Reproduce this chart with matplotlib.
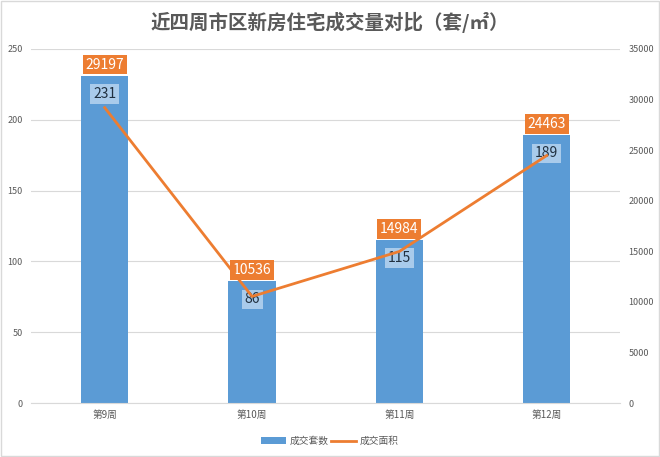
import numpy as np
import matplotlib
matplotlib.use('Agg')
import matplotlib.pyplot as plt
from matplotlib.patches import Rectangle

plt.rcParams['font.family'] = ['Noto Sans CJK SC', 'DejaVu Sans']

weeks = ['第9周', '第10周', '第11周', '第12周']
units = [231, 86, 115, 189]          # 成交套数
area = [29197, 10536, 14984, 24463]  # 成交面积

bar_color = '#5B9BD5'
line_color = '#ED7D31'
text_gray = '#595959'

fig = plt.figure(figsize=(6.6, 4.57), dpi=100)
fig.patches.append(Rectangle((0.001, 0.002), 0.997, 0.996, transform=fig.transFigure,
                             fill=False, ec='#D9D9D9', lw=1))
ax = fig.add_axes([0.047, 0.118, 0.893, 0.775])
ax2 = ax.twinx()

x = np.arange(len(weeks))
ax.bar(x, units, width=0.32, color=bar_color, zorder=2, label='成交套数')
ax2.plot(x, area, color=line_color, lw=2, zorder=3, label='成交面积')

ax.set_ylim(0, 250)
ax.set_yticks(range(0, 251, 50))
ax2.set_ylim(0, 35000)
ax2.set_yticks(range(0, 35001, 5000))
ax.set_xlim(-0.5, len(weeks) - 0.5)
ax.set_xticks(x)
ax.set_xticklabels(weeks)

ax.grid(axis='y', color='#D9D9D9', lw=0.8, zorder=0)
for a in (ax, ax2):
    for s in a.spines.values():
        s.set_visible(False)
    a.tick_params(length=0, labelsize=6.5, colors=text_gray, pad=6)
ax.spines['bottom'].set_visible(True)
ax.spines['bottom'].set_color('#D9D9D9')
ax.tick_params(axis='x', pad=5, labelsize=7)

ax2.set_zorder(ax.get_zorder() + 1)
ax2.patch.set_visible(False)

# data labels
for xi, u, a in zip(x, units, area):
    ax.annotate(str(u), (xi, u), xytext=(0, -13), textcoords='offset points',
                ha='center', va='center', fontsize=10, color='#203040', zorder=5,
                bbox=dict(boxstyle='square,pad=0.2', fc='#A9CBEB', ec='none'))
    ax.annotate(str(a), (xi, u), xytext=(0, 8), textcoords='offset points',
                ha='center', va='center', fontsize=10, color='white', zorder=5,
                bbox=dict(boxstyle='square,pad=0.2', fc=line_color, ec='none'))

fig.suptitle('近四周市区新房住宅成交量对比（套/㎡）', x=0.5, y=0.975,
             fontsize=14, fontweight='bold', color=text_gray)

h1, l1 = ax.get_legend_handles_labels()
h2, l2 = ax2.get_legend_handles_labels()
fig.legend(h1 + h2, l1 + l2, loc='lower center', bbox_to_anchor=(0.5, 0.005),
           ncol=2, frameon=False, fontsize=7, labelcolor=text_gray,
           handlelength=2.5, columnspacing=0.3, handletextpad=0.4)

fig.savefig('out.png', dpi=100)
